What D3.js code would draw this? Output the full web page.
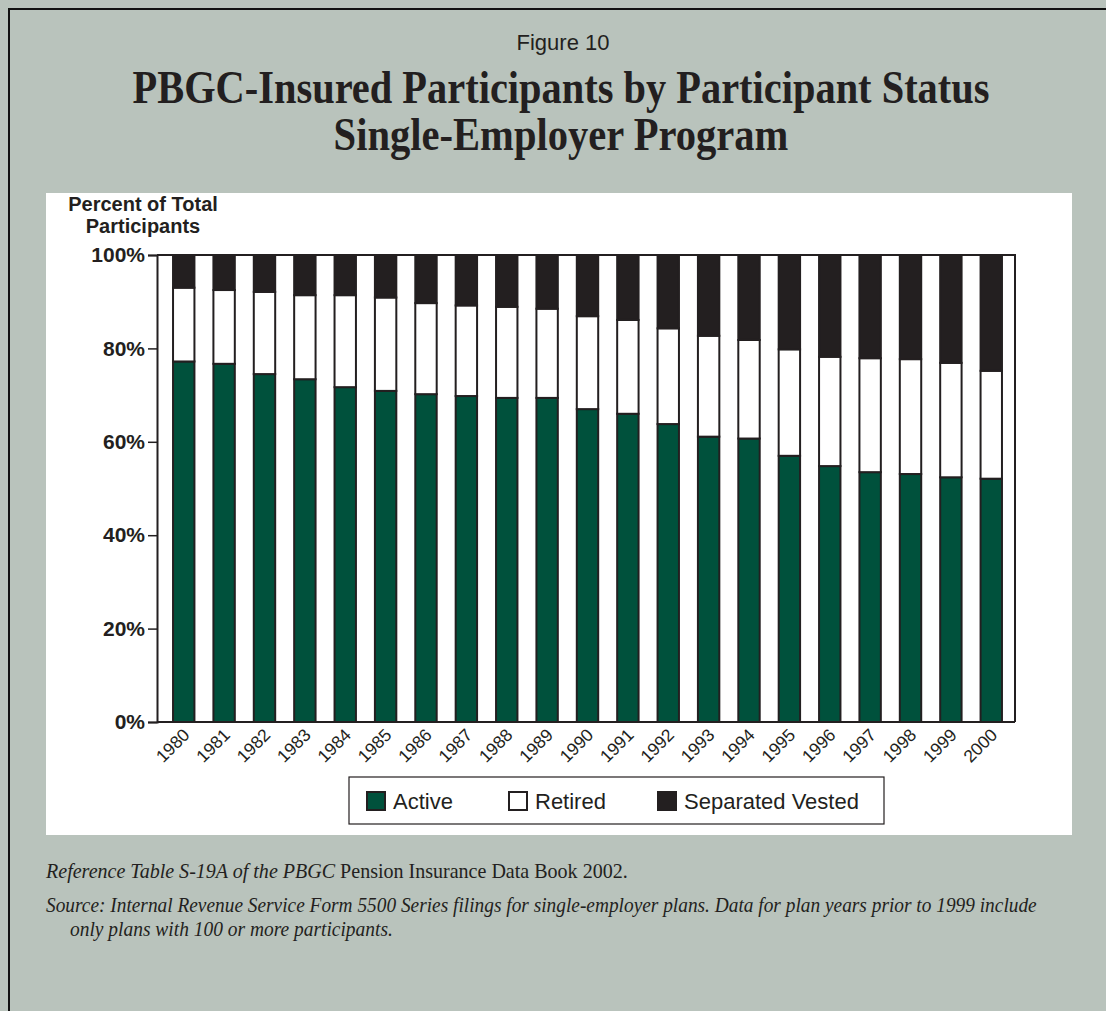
<!DOCTYPE html>
<html>
<head>
<meta charset="utf-8">
<script src="https://cdn.jsdelivr.net/npm/d3@7"></script>
<style>
  html, body { margin: 0; padding: 0; background: #b9c3bc; }
  svg { display: block; }
</style>
</head>
<body>
<svg id="chart" width="1106" height="1011"></svg>
<script>
// ---- data ----
const years = ["1980","1981","1982","1983","1984","1985","1986","1987","1988","1989","1990",
               "1991","1992","1993","1994","1995","1996","1997","1998","1999","2000"];
const active  = [77.2, 76.7, 74.5, 73.4, 71.7, 70.9, 70.2, 69.8, 69.4, 69.4, 67.0,
                 66.0, 63.8, 61.1, 60.7, 57.0, 54.8, 53.5, 53.1, 52.4, 52.1];
const retired = [15.8, 15.8, 17.6, 18.0, 19.7, 20.0, 19.5, 19.4, 19.5, 19.1, 19.9,
                 20.1, 20.5, 21.6, 21.1, 22.8, 23.4, 24.4, 24.6, 24.5, 23.1];
const separatedVested = [7.0, 7.5, 7.9, 8.6, 8.6, 9.1, 10.3, 10.8, 11.1, 11.5, 13.1,
                 13.9, 15.7, 17.3, 18.2, 20.2, 21.8, 22.1, 22.3, 23.1, 24.8];
const yTicks = [0, 20, 40, 60, 80, 100];
const seriesNames = ["Active", "Retired", "Separated Vested"];
const seriesColors = ["#00513c", "#ffffff", "#231f20"];

// ---- build table ----
const table = years.map((yr, i) => ({
  year: yr, "Active": active[i], "Retired": retired[i], "Separated Vested": separatedVested[i]
}));

const svg = d3.select("#chart");
const ink = "#231f20";

// condense a text horizontally to a target width using a transform
function fit(sel, x0, y0, target, anchor) {
  sel.attr("x", 0).attr("y", 0).attr("text-anchor", anchor || "start");
  const w = sel.node().getComputedTextLength();
  const s = Math.min(1, target / w);
  sel.attr("transform", `translate(${x0},${y0}) scale(${s},1)`);
  return sel;
}

// background + border
svg.append("rect").attr("x", 0).attr("y", 0).attr("width", 1106).attr("height", 1011).attr("fill", "#b9c3bc");
svg.append("path").attr("d", "M9,1011 V9 H1106").attr("fill", "none").attr("stroke", "#111").attr("stroke-width", 2);

// white panel
svg.append("rect").attr("x", 46).attr("y", 193).attr("width", 1026).attr("height", 642).attr("fill", "#ffffff");

// titles
svg.append("text").attr("x", 563).attr("y", 50).attr("text-anchor", "middle")
  .attr("font-family", "Liberation Sans, Arial, sans-serif").attr("font-size", 22).attr("fill", ink)
  .text("Figure 10");
fit(svg.append("text")
  .attr("font-family", "Liberation Serif, Times New Roman, serif").attr("font-weight", "bold")
  .attr("font-size", 47).attr("fill", ink)
  .text("PBGC-Insured Participants by Participant Status"), 561, 103, 857, "middle");
fit(svg.append("text")
  .attr("font-family", "Liberation Serif, Times New Roman, serif").attr("font-weight", "bold")
  .attr("font-size", 47).attr("fill", ink)
  .text("Single-Employer Program"), 561, 150, 455, "middle");

// scales
const plotLeft = 157, plotRight = 1015, plotTop = 255, plotBottom = 722;
const y = d3.scaleLinear().domain([0, 100]).range([plotBottom, plotTop]);
const x = d3.scaleBand().domain(years).range([158.5, 1016.5]).paddingInner(0.47).paddingOuter(0.36);

// y axis title
const yt = svg.append("text").attr("text-anchor", "middle")
  .attr("font-family", "Liberation Sans, Arial, sans-serif").attr("font-weight", "bold")
  .attr("font-size", 20).attr("fill", ink);
yt.append("tspan").attr("x", 143).attr("y", 211).text("Percent of Total");
yt.append("tspan").attr("x", 143).attr("y", 233).text("Participants");

// stacked bars
const stack = d3.stack().keys(seriesNames);
const layers = stack(table);
const g = svg.append("g");
g.selectAll("g.layer").data(layers).join("g").attr("class", "layer")
  .attr("fill", (d, i) => seriesColors[i])
  .selectAll("rect").data(d => d).join("rect")
  .attr("x", d => x(d.data.year))
  .attr("width", x.bandwidth())
  .attr("y", d => y(d[1]))
  .attr("height", d => y(d[0]) - y(d[1]))
  .attr("stroke", ink).attr("stroke-width", 2);

// frame (top & right)
svg.append("path").attr("d", `M${plotLeft},${plotTop} H${plotRight} V${plotBottom}`)
  .attr("fill", "none").attr("stroke", ink).attr("stroke-width", 2);

// y axis
const yAxis = svg.append("g").attr("transform", `translate(${plotLeft},0)`)
  .call(d3.axisLeft(y).tickValues(yTicks).tickFormat(d => d + "%").tickSize(9).tickPadding(3));
yAxis.select(".domain").attr("stroke", ink).attr("stroke-width", 2);
yAxis.selectAll(".tick line").attr("stroke", ink).attr("stroke-width", 1.5);
yAxis.selectAll(".tick text").attr("font-family", "Liberation Sans, Arial, sans-serif")
  .attr("font-weight", "bold").attr("font-size", 21).attr("fill", ink);

// x axis
const xAxis = svg.append("g").attr("transform", `translate(0,${plotBottom})`)
  .call(d3.axisBottom(x).tickSize(0).tickPadding(0));
xAxis.select(".domain").attr("d", `M${plotLeft},0 H${plotRight}`).attr("stroke", ink).attr("stroke-width", 2);
xAxis.selectAll(".tick text")
  .attr("font-family", "Liberation Sans, Arial, sans-serif").attr("font-size", 17.5).attr("fill", ink)
  .attr("text-anchor", "end").attr("dy", null).attr("y", null)
  .attr("transform", "translate(7,14) rotate(-45)");

// legend
const lg = svg.append("g");
lg.append("rect").attr("x", 349).attr("y", 777).attr("width", 535).attr("height", 47)
  .attr("fill", "#fff").attr("stroke", ink).attr("stroke-width", 1.2);
const legendX = [367, 509, 658];
seriesNames.forEach((name, i) => {
  lg.append("rect").attr("x", legendX[i]).attr("y", 792).attr("width", 18).attr("height", 18)
    .attr("fill", seriesColors[i]).attr("stroke", ink).attr("stroke-width", 2);
  lg.append("text").attr("x", legendX[i] + 26).attr("y", 809)
    .attr("font-family", "Liberation Sans, Arial, sans-serif").attr("font-size", 22).attr("fill", ink)
    .text(name);
});

// footnotes
const fn = "Liberation Serif, Times New Roman, serif";
const f1 = svg.append("text").attr("font-family", fn).attr("font-size", 21).attr("fill", ink);
f1.append("tspan").attr("font-style", "italic").text("Reference Table S-19A of the PBGC ");
f1.append("tspan").text("Pension Insurance Data Book 2002.");
fit(f1, 46, 878, 582);
fit(svg.append("text").attr("font-family", fn).attr("font-style", "italic")
  .attr("font-size", 21).attr("fill", ink)
  .text("Source:  Internal Revenue Service Form 5500 Series filings for single-employer plans. Data for plan years prior to 1999 include"),
  46, 912, 991);
fit(svg.append("text").attr("font-family", fn).attr("font-style", "italic")
  .attr("font-size", 21).attr("fill", ink)
  .text("only plans with 100 or more participants."), 70, 936, 323);
</script>
</body>
</html>
